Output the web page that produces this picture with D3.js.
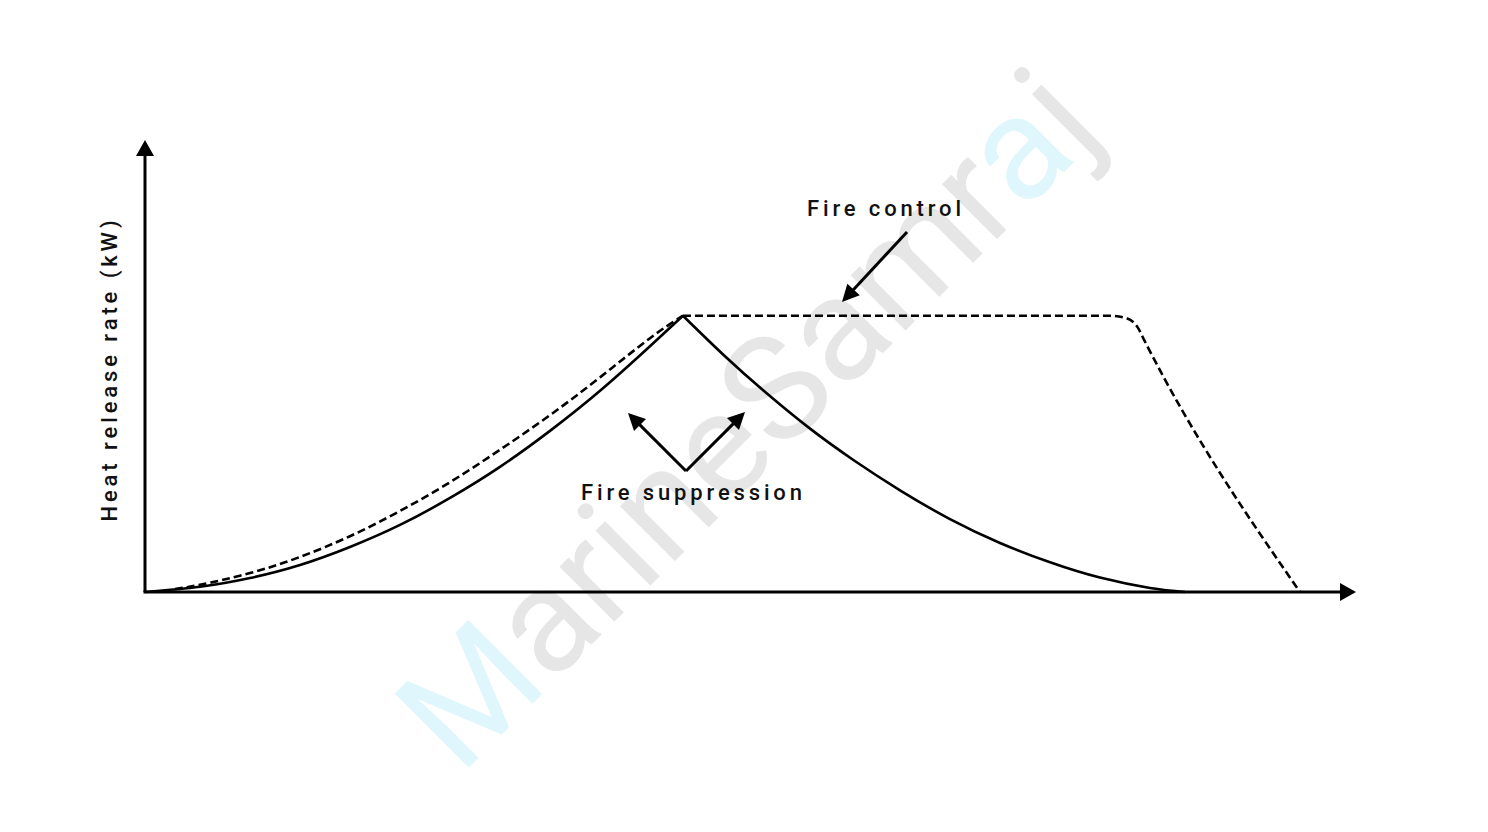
<!DOCTYPE html>
<html>
<head>
<meta charset="utf-8">
<script src="https://cdn.jsdelivr.net/npm/d3@7"></script>
<style>
  html, body { margin: 0; padding: 0; background: #fff; }
  svg { display: block; }
  text { font-family: Roboto, "Noto Sans", sans-serif; }
</style>
</head>
<body>
<svg id="chart" width="1488" height="832"></svg>
<script>
// ---- Data (time in arbitrary units, heat release rate in arbitrary units) ----
const growthSolidT = [0, 4.58, 8.75, 12.92, 17.08, 21.25, 25.42, 29.58, 33.75, 37.92, 42.08, 44.83];
const growthSolidH = [0, 1.16, 3.1, 6.0, 10.0, 14.9, 20.9, 27.8, 35.8, 44.7, 54.6, 61.4];

const growthDashT = [2.5, 4.58, 8.75, 12.92, 17.08, 21.25, 25.42, 29.58, 33.75, 37.92, 42.08, 44.83];
const growthDashH = [0.67, 1.6, 4.2, 7.8, 12.4, 18.0, 24.4, 31.6, 39.3, 47.7, 56.4, 61.4];

const suppressionT = [44.83, 48.33, 51.83, 55.42, 59.0, 62.92, 67.08, 71.25, 75.42, 79.58, 83.75, 86.67];
const suppressionH = [61.4, 52.4, 44.1, 36.3, 29.4, 22.6, 16.2, 10.9, 6.6, 3.2, 0.9, 0];

const controlT = [44.83, 80.4, 81.7, 82.75, 83.3, 96.25];
const controlH = [61.4, 61.4, 60.9, 58.7, 55.8, 0];

const yAxisLabel = "Heat release rate (kW)";
const labelControl = "Fire control";
const labelSuppression = "Fire suppression";
const watermarkParts = [["M", "#dff6fc"], ["arineSamr", "#e6e6e6"], ["a", "#dff6fc"], ["j", "#e6e6e6"]];

// ---- Scales ----
const x = d3.scaleLinear().domain([0, 100]).range([145, 1345]);
const y = d3.scaleLinear().domain([0, 100]).range([592, 142]);

const svg = d3.select("#chart");

// Watermark (behind)
const wm = svg.append("text")
  .attr("transform", "translate(460,776) rotate(-45)")
  .attr("font-size", 147)
  .attr("font-weight", 400);
watermarkParts.forEach(([t, c]) => wm.append("tspan").attr("fill", c).text(t));

const zip = (a, b) => a.map((v, i) => [v, b[i]]);
const smooth = d3.line().x(d => x(d[0])).y(d => y(d[1])).curve(d3.curveNatural);
const mono = d3.line().x(d => x(d[0])).y(d => y(d[1])).curve(d3.curveMonotoneX);

// Curves
svg.append("path").attr("d", smooth(zip(growthDashT, growthDashH)))
  .attr("fill", "none").attr("stroke", "#000").attr("stroke-width", 2.6)
  .attr("stroke-dasharray", "8,4");
svg.append("path").attr("d", mono(zip(controlT, controlH)))
  .attr("fill", "none").attr("stroke", "#000").attr("stroke-width", 2.6)
  .attr("stroke-dasharray", "8,4");
svg.append("path").attr("d", smooth(zip(growthSolidT, growthSolidH)))
  .attr("fill", "none").attr("stroke", "#000").attr("stroke-width", 2.6);
svg.append("path").attr("d", smooth(zip(suppressionT, suppressionH)))
  .attr("fill", "none").attr("stroke", "#000").attr("stroke-width", 2.6);

// Axes with arrowheads
const x0 = x(0), y0 = y(0);
svg.append("line").attr("x1", x0).attr("y1", y0).attr("x2", x0).attr("y2", 152)
  .attr("stroke", "#000").attr("stroke-width", 3);
svg.append("line").attr("x1", x0 - 1.5).attr("y1", y0).attr("x2", 1344).attr("y2", y0)
  .attr("stroke", "#000").attr("stroke-width", 3);
svg.append("path").attr("d", `M${x0},140 L${x0 - 9},156 L${x0 + 9},156 Z`).attr("fill", "#000");
svg.append("path").attr("d", `M1356,${y0} L1340,${y0 - 9} L1340,${y0 + 9} Z`).attr("fill", "#000");

// Y axis label
svg.append("text")
  .attr("transform", `translate(117,369) rotate(-90)`)
  .attr("text-anchor", "middle")
  .attr("font-size", 22)
  .attr("font-weight", 500)
  .attr("letter-spacing", 3.9)
  .attr("fill", "#111")
  .text(yAxisLabel);

// Annotation arrows
function arrow(x1, y1, x2, y2) {
  const ang = Math.atan2(y2 - y1, x2 - x1);
  const L = 17, W = 8.5;
  const bx = x2 - L * Math.cos(ang), by = y2 - L * Math.sin(ang);
  svg.append("line").attr("x1", x1).attr("y1", y1).attr("x2", bx + 2 * Math.cos(ang)).attr("y2", by + 2 * Math.sin(ang))
    .attr("stroke", "#000").attr("stroke-width", 3);
  const px = -Math.sin(ang), py = Math.cos(ang);
  svg.append("path")
    .attr("d", `M${x2},${y2} L${bx + W * px},${by + W * py} L${bx - W * px},${by - W * py} Z`)
    .attr("fill", "#000");
}
arrow(907, 232, 842, 302);
arrow(686, 471, 628, 413);
arrow(686, 471, 745, 412);

// Annotation labels
svg.append("text").attr("x", 807).attr("y", 216)
  .attr("font-size", 22).attr("font-weight", 500).attr("letter-spacing", 3.85)
  .attr("fill", "#111").text(labelControl);
svg.append("text").attr("x", 581).attr("y", 500)
  .attr("font-size", 22).attr("font-weight", 500).attr("letter-spacing", 3.85)
  .attr("fill", "#111").text(labelSuppression);
</script>
</body>
</html>
